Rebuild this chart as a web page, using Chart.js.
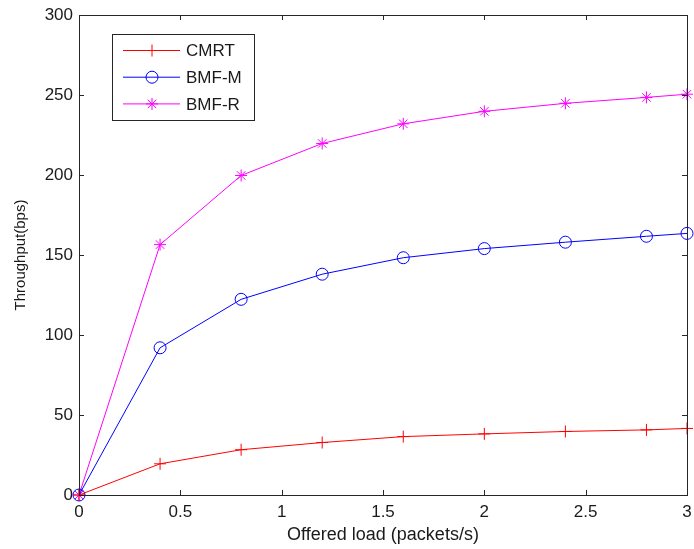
<!DOCTYPE html>
<html>
<head>
<meta charset="utf-8">
<script src="https://cdn.jsdelivr.net/npm/chart.js@4/dist/chart.umd.min.js"></script>
<style>
  html, body { margin: 0; padding: 0; background: #fff; }
  #wrap { width: 694px; height: 549px; }
</style>
</head>
<body>
<div id="wrap"><canvas id="chartCanvas" width="694" height="549"></canvas></div>
<script>
// Datos
const offeredLoad = [0, 0.4, 0.8, 1.2, 1.6, 2.0, 2.4, 2.8, 3.0];
const cmrt = [0, 19.5, 28.3, 32.8, 36.5, 38.2, 39.7, 40.7, 41.6];
const bmfM = [0, 92, 122.3, 138, 148.3, 154, 158, 161.7, 163.5];
const bmfR = [0, 156.5, 199.7, 219.7, 232, 239.8, 244.8, 248.5, 250.5];

const xTickLabels = ['0', '0.5', '1', '1.5', '2', '2.5', '3'];
const yTickLabels = ['0', '50', '100', '150', '200', '250', '300'];

const FONT = "'Liberation Sans', Arial, sans-serif";
const AXIS_COLOR = '#262626';

function toPoints(ys) {
    return offeredLoad.map((x, i) => ({ x: x, y: ys[i] }));
}

// Marco y ticks hacia dentro (estilo MATLAB)
const boxTicks = {
    id: 'boxTicks',
    afterDraw(chart) {
        const { ctx, chartArea: a, scales } = chart;
        ctx.save();
        ctx.strokeStyle = AXIS_COLOR;
        ctx.lineWidth = 1;
        ctx.strokeRect(a.left + 0.5, a.top + 0.5, a.right - a.left, a.bottom - a.top);
        const len = 5;
        ctx.beginPath();
        for (const t of scales.x.ticks) {
            const px = Math.round(scales.x.getPixelForValue(t.value)) + 0.5;
            ctx.moveTo(px, a.bottom); ctx.lineTo(px, a.bottom - len);
            ctx.moveTo(px, a.top); ctx.lineTo(px, a.top + len);
        }
        for (const t of scales.y.ticks) {
            const py = Math.round(scales.y.getPixelForValue(t.value)) + 0.5;
            ctx.moveTo(a.left, py); ctx.lineTo(a.left + len, py);
            ctx.moveTo(a.right, py); ctx.lineTo(a.right - len, py);
        }
        ctx.stroke();
        ctx.restore();
    }
};

// Leyenda dibujada a mano
const boxLegend = {
    id: 'boxLegend',
    afterDraw(chart) {
        const ctx = chart.ctx;
        const left = 112, top = 34, right = 254, bottom = 120;
        ctx.save();
        ctx.fillStyle = '#fff';
        ctx.fillRect(left, top, right - left, bottom - top);
        ctx.strokeStyle = AXIS_COLOR;
        ctx.lineWidth = 1;
        ctx.strokeRect(left + 0.5, top + 0.5, right - left, bottom - top);
        chart.data.datasets.forEach((ds, i) => {
            const y = 50.5 + i * 26.7;
            ctx.strokeStyle = ds.borderColor;
            ctx.fillStyle = 'rgba(0,0,0,0)';
            ctx.lineWidth = 1;
            ctx.beginPath();
            ctx.moveTo(123, y); ctx.lineTo(180, y);
            ctx.stroke();
            Chart.helpers.drawPoint(ctx, {
                pointStyle: ds.pointStyle,
                radius: ds.pointRadius,
                borderWidth: 1
            }, 152, y);
            ctx.fillStyle = '#1a1a1a';
            ctx.font = '17px ' + FONT;
            ctx.textBaseline = 'middle';
            ctx.fillText(ds.label, 186, y + 1);
        });
        ctx.restore();
    }
};

const datasets = [
    { label: 'CMRT', data: toPoints(cmrt), borderColor: '#ff0000', pointStyle: 'cross' },
    { label: 'BMF-M', data: toPoints(bmfM), borderColor: '#0000ff', pointStyle: 'circle' },
    { label: 'BMF-R', data: toPoints(bmfR), borderColor: '#ff00ff', pointStyle: 'star' }
].map(ds => Object.assign(ds, {
    borderWidth: 1,
    backgroundColor: 'transparent',
    pointBorderColor: ds.borderColor,
    pointBackgroundColor: 'transparent',
    pointBorderWidth: 1,
    pointRadius: 6,
    tension: 0,
    clip: false
}));

new Chart(document.getElementById('chartCanvas'), {
    type: 'line',
    data: { datasets: datasets },
    options: {
        responsive: false,
        animation: false,
        events: [],
        layout: { padding: { top: 15, right: 5, left: 0, bottom: 0 } },
        plugins: { legend: { display: false }, tooltip: { enabled: false } },
        scales: {
            x: {
                type: 'linear',
                min: 0, max: 3,
                grid: { drawOnChartArea: false, drawTicks: false },
                border: { display: false },
                ticks: {
                    stepSize: 0.5,
                    padding: 7,
                    color: '#1a1a1a',
                    font: { family: FONT, size: 17 },
                    maxRotation: 0,
                    callback: (v, i) => xTickLabels[i]
                },
                title: {
                    display: true,
                    text: 'Offered load (packets/s)',
                    color: '#1a1a1a',
                    font: { family: FONT, size: 18 },
                    padding: { top: 3, bottom: 3 }
                },
                afterFit: (s) => {
                    s.height = 54;
                    s.paddingLeft = 0;
                    s.paddingRight = 0;
                }
            },
            y: {
                type: 'linear',
                min: 0, max: 300,
                grid: { drawOnChartArea: false, drawTicks: false },
                border: { display: false },
                ticks: {
                    stepSize: 50,
                    padding: 6,
                    color: '#1a1a1a',
                    font: { family: FONT, size: 17 },
                    callback: (v, i) => yTickLabels[i]
                },
                title: {
                    display: true,
                    text: 'Throughput(bps)',
                    color: '#1a1a1a',
                    font: { family: FONT, size: 15 },
                    padding: { top: 12, bottom: 12 }
                },
                afterFit: (s) => {
                    s.width = 79;
                    s.paddingTop = 0;
                    s.paddingBottom = 0;
                }
            }
        }
    },
    plugins: [boxTicks, boxLegend]
});
</script>
</body>
</html>
